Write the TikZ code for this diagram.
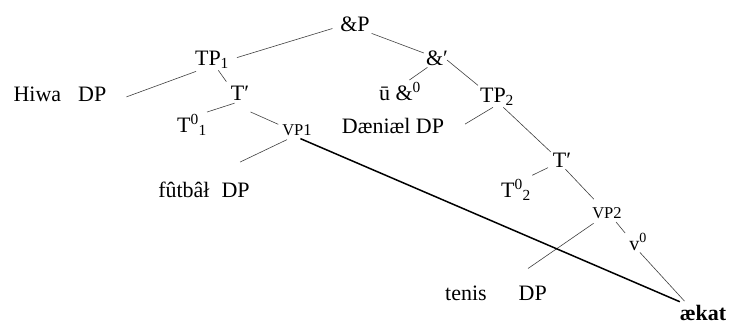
\documentclass[tikz,border=0pt]{standalone}
\usepackage{fontspec}
\setmainfont{Liberation Serif}
\tikzset{
    cat/.style={anchor=base, inner sep=2pt, font=\fontsize{22}{26}\selectfont},
    smallcat/.style={cat, font=\fontsize{16.5}{19}\selectfont},
    word/.style={cat, font=\fontsize{22}{26}\selectfont\bfseries},
    branch/.style={black!75, line width=0.6pt},
    movebranch/.style={black, line width=1.5pt}
}
\begin{document}
\begin{tikzpicture}[x=1pt, y=-1pt]
    \useasboundingbox (0,0) rectangle (729,325);

    % First conjunct (TP1)
    \node[cat] (andP) at (355,31) {\&P};
    \node[cat] (TP1) at (212,65) {TP\textsubscript{1}};
    \node[cat] (HiwaDP) at (60,101) {Hiwa\hspace{17pt}DP};
    \node[cat] (Tbar1) at (240,100) {T′};
    \node[cat] (T01) at (192,132) {T\textsuperscript{0}\textsubscript{1}};
    \node[smallcat] (VP1) at (297,135) {VP1};
    \node[cat] (futbal) at (204,197) {fûtbâł\hspace{12pt}DP};

    % Second conjunct (TP2)
    \node[cat] (andbar) at (437,65) {\&′};
    \node[cat] (uand) at (400,100) {ū \&\textsuperscript{0}};
    \node[cat] (TP2) at (497,102) {TP\textsubscript{2}};
    \node[cat] (Daniel) at (393,133) {Dæniæl DP};
    \node[cat] (Tbar2) at (562,167) {T′};
    \node[cat] (T02) at (516,197) {T\textsuperscript{0}\textsubscript{2}};
    \node[smallcat] (VP2) at (607,218) {VP2};
    \node[cat, font=\fontsize{20}{24}\selectfont] (v0) at (638,250) {v\textsuperscript{0}};
    \node[cat] (tenis) at (496,300) {tenis\hspace{32pt}DP};
    \node[word] (aekat) at (703,320) {ækat};

    % Branches
    \draw[branch, shorten <=6pt, shorten >=6pt] (andP.190) -- (TP1.east);
    \draw[branch] (andP.-30) -- (andbar.160);
    \draw[branch, shorten <=3pt, shorten >=19pt] (TP1.220) -- (HiwaDP.south east);
    \draw[branch, shorten >=4pt] (TP1.-60) -- (Tbar1.145);
    \draw[branch, shorten <=3pt] (Tbar1.-105) -- (T01.40);
    \draw[branch, shorten <=24pt, shorten >=2pt] (Tbar1.south west) -- (VP1.165);
    \draw[branch, shorten <=5pt, shorten >=40pt] (VP1.-125) -- (futbal.north);
    \draw[branch] (andbar.-135) -- (uand.50);
    \draw[branch, shorten <=-4pt] (andbar.-20) -- (TP2.150);
    \draw[branch, shorten >=22pt] (TP2.-110) -- (Daniel.south east);
    \draw[branch] (TP2.-60) -- (Tbar2.145);
    \draw[branch, shorten <=3pt, shorten >=4pt] (Tbar2.-150) -- (T02.45);
    \draw[branch, shorten >=8pt] (Tbar2.-70) -- (VP2.135);
    \draw[branch, shorten <=5pt, shorten >=26pt] (VP2.-140) -- (tenis.42);
    \draw[branch, shorten <=2pt, shorten >=3pt] (VP2.-45) -- (v0.150);
    \draw[branch, shorten >=2pt] (v0.-80) -- (aekat.150);

    % Verb movement
    \draw[movebranch, shorten <=3pt, shorten >=2pt] (VP1.-85) -- (aekat.155);
\end{tikzpicture}
\end{document}
